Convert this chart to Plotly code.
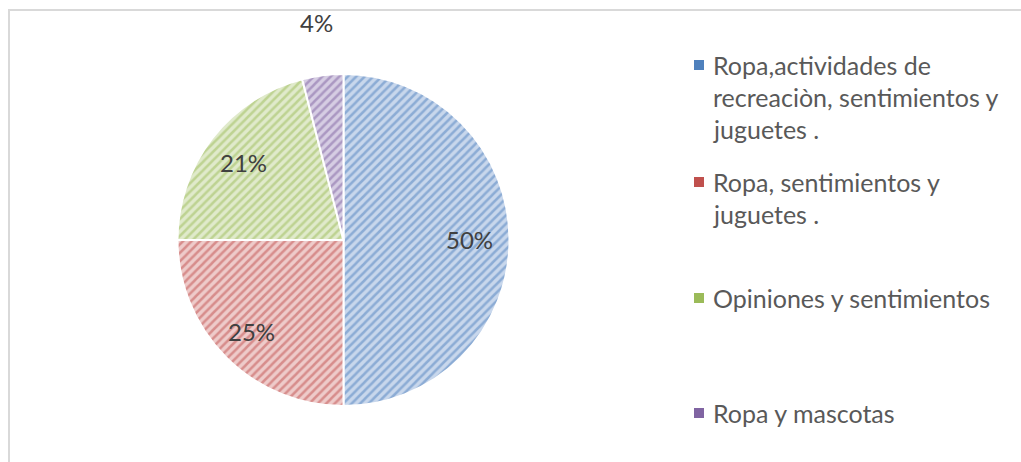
import math
import plotly.graph_objects as go

# ---- data ----
categories = [
    "Ropa,actividades de recreaciòn, sentimientos y juguetes .",
    "Ropa, sentimientos y juguetes .",
    "Opiniones y sentimientos",
    "Ropa y mascotas",
]
legend_lines = [
    ["Ropa,actividades de", "recreaciòn, sentimientos y", "juguetes ."],
    ["Ropa, sentimientos y", "juguetes ."],
    ["Opiniones y sentimientos"],
    ["Ropa y mascotas"],
]
values = [50, 25, 21, 4]

# ---- style ----
W, H = 1021, 462
base_colors = ["#4F81BD", "#C0504D", "#9BBB59", "#8064A2"]
tint_colors = ["#C8D7EC", "#EECBCA", "#E0EACB", "#D6CDE3"]
CX, CY, R = 343.5, 240.0, 166.0  # pie centre / radius in px
label_r = [0.76, 0.78, 0.76, 1.32]
text_color = "#404040"
legend_color = "#595959"
FONT = "Lato"

fig = go.Figure()
fig.add_trace(go.Pie(
    labels=categories,
    values=values,
    sort=False,
    direction="clockwise",
    rotation=0,
    textinfo="none",
    hoverinfo="label+percent",
    showlegend=False,
    marker=dict(
        colors=tint_colors,
        line=dict(color="white", width=2),
        pattern=dict(shape="/", fgcolor=base_colors, size=6, solidity=0.42,
                     fillmode="overlay"),
    ),
    domain=dict(x=[(CX - R) / W, (CX + R) / W],
                y=[1 - (CY + R) / H, 1 - (CY - R) / H]),
))

annotations = []
total = sum(values)
cum = 0
for v, lr in zip(values, label_r):
    mid = (cum + v / 2) / total * 2 * math.pi
    cum += v
    px = CX + lr * R * math.sin(mid)
    py = CY - lr * R * math.cos(mid)
    annotations.append(dict(
        x=px / W, y=1 - py / H, xref="paper", yref="paper",
        text=f"{round(v / total * 100)}%", showarrow=False,
        font=dict(family=FONT, size=24, color=text_color),
        xanchor="center", yanchor="middle",
    ))

shapes = []
item_y = [65, 182, 298, 413]
line_h = 32
for lines, y0, col in zip(legend_lines, item_y, base_colors):
    shapes.append(dict(type="rect", xref="paper", yref="paper",
                       x0=694 / W, x1=704 / W,
                       y0=1 - (y0 + 5) / H, y1=1 - (y0 - 5) / H,
                       fillcolor=col, line=dict(width=0)))
    for i, t in enumerate(lines):
        annotations.append(dict(
            x=711 / W, y=1 - (y0 + i * line_h) / H, xref="paper", yref="paper",
            text=t, showarrow=False, xanchor="left", yanchor="middle",
            font=dict(family=FONT, size=25, color=legend_color),
        ))

# chart border
shapes.append(dict(type="rect", xref="paper", yref="paper",
                   x0=9 / W, x1=1.05, y0=-0.05, y1=1 - 10 / H,
                   line=dict(color="#D9D9D9", width=2), fillcolor="rgba(0,0,0,0)"))

fig.update_layout(
    width=W, height=H,
    margin=dict(l=0, r=0, t=0, b=0),
    paper_bgcolor="white", plot_bgcolor="white",
    annotations=annotations, shapes=shapes,
    showlegend=False,
)
fig.write_html("out.html", config={"displayModeBar": False},
               post_script="document.body.style.margin='0';")
